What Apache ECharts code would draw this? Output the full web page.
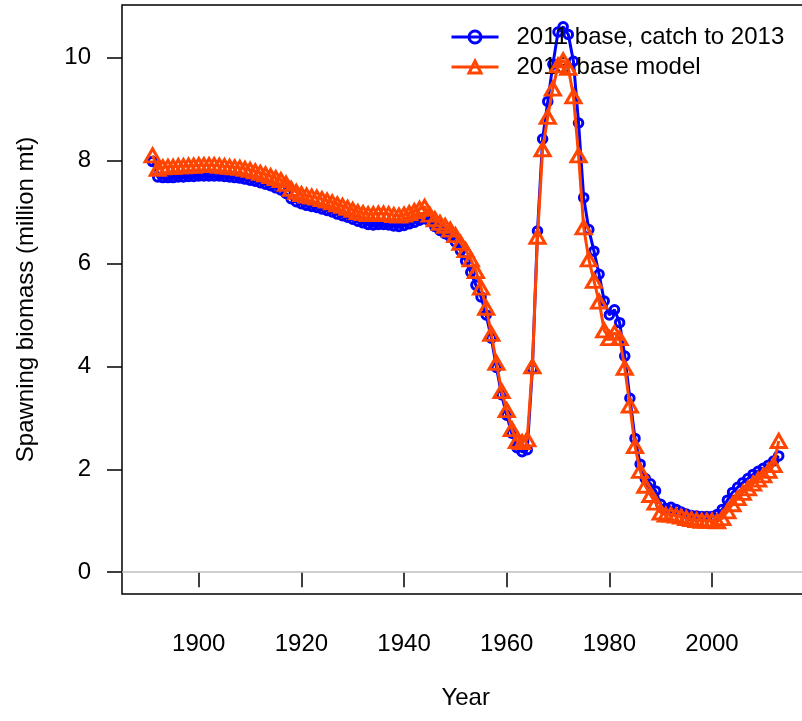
<!DOCTYPE html>
<html>
<head>
<meta charset="utf-8">
<script src="https://cdn.jsdelivr.net/npm/echarts@6/dist/echarts.min.js"></script>
<style>
  html, body { margin: 0; padding: 0; background: #fff; }
  #chart { width: 802px; height: 721px; }
</style>
</head>
<body>
<div id="chart"></div>
<script>
// Spawning biomass (million mt) by year, two model runs
const firstYear = 1891;
const lastYear = 2013;

const base2011 = [
  7.98, 7.68, 7.67, 7.67, 7.67, 7.68, 7.68, 7.69, 7.69,             // 1891-1899
  7.70, 7.70, 7.70, 7.70, 7.70, 7.69, 7.68, 7.67, 7.66, 7.64,       // 1900-1909
  7.62, 7.60, 7.57, 7.54, 7.51, 7.47, 7.43, 7.36, 7.26, 7.20,       // 1910-1919
  7.16, 7.13, 7.11, 7.09, 7.06, 7.03, 7.00, 6.96, 6.93, 6.90,       // 1920-1929
  6.86, 6.82, 6.79, 6.76, 6.75, 6.76, 6.76, 6.75, 6.73, 6.72,       // 1930-1939
  6.74, 6.77, 6.80, 6.84, 6.87, 6.82, 6.72, 6.64, 6.58, 6.52,       // 1940-1949
  6.42, 6.25, 6.05, 5.83, 5.58, 5.35, 5.00, 4.55, 3.98, 3.45,       // 1950-1959
  3.05, 2.70, 2.42, 2.34, 2.38, 3.95, 6.63, 8.42, 9.15, 9.87,       // 1960-1969
  10.50, 10.60, 10.45, 9.93, 8.73, 7.28, 6.66, 6.24, 5.79, 5.27,    // 1970-1979
  5.00, 5.10, 4.85, 4.20, 3.38, 2.60, 2.10, 1.82, 1.72, 1.58,       // 1980-1989
  1.32, 1.24, 1.26, 1.22, 1.17, 1.13, 1.10, 1.09, 1.08, 1.08,       // 1990-1999
  1.08, 1.12, 1.22, 1.40, 1.55, 1.65, 1.74, 1.82, 1.90, 1.96,       // 2000-2009
  2.02, 2.08, 2.16, 2.26                                            // 2010-2013
];

const base2013 = [
  8.10, 7.84, 7.87, 7.88, 7.88, 7.89, 7.89, 7.90, 7.90,             // 1891-1899
  7.91, 7.91, 7.91, 7.91, 7.90, 7.89, 7.88, 7.87, 7.86, 7.84,       // 1900-1909
  7.82, 7.79, 7.76, 7.73, 7.70, 7.66, 7.62, 7.55, 7.45, 7.39,       // 1910-1919
  7.35, 7.32, 7.30, 7.28, 7.25, 7.22, 7.19, 7.15, 7.12, 7.08,       // 1920-1929
  7.04, 7.00, 6.98, 6.96, 6.96, 6.97, 6.97, 6.96, 6.94, 6.93,       // 1930-1939
  6.95, 6.98, 7.02, 7.06, 7.10, 6.95, 6.86, 6.79, 6.73, 6.66,       // 1940-1949
  6.55, 6.40, 6.26, 6.08, 5.85, 5.53, 5.14, 4.63, 4.07, 3.52,       // 1950-1959
  3.15, 2.78, 2.55, 2.53, 2.58, 4.00, 6.52, 8.22, 8.85, 9.40,       // 1960-1969
  9.85, 9.95, 9.80, 9.25, 8.10, 6.70, 6.08, 5.66, 5.26, 4.70,       // 1970-1979
  4.55, 4.65, 4.55, 3.97, 3.24, 2.45, 1.97, 1.68, 1.50, 1.35,       // 1980-1989
  1.16, 1.12, 1.12, 1.10, 1.08, 1.05, 1.03, 1.01, 1.00, 1.00,       // 1990-1999
  1.00, 0.99, 1.05, 1.18, 1.32, 1.44, 1.54, 1.63, 1.72, 1.80,       // 2000-2009
  1.88, 1.97, 2.08, 2.55                                            // 2010-2013
];

const seriesNames = ['2011 base, catch to 2013', '2013 base model'];
const yearTicks = [1900, 1920, 1940, 1960, 1980, 2000];
const biomassTicks = [0, 2, 4, 6, 8, 10];

const years = [];
for (let y = firstYear; y <= lastYear; y++) years.push(y);
const pairs = (vals) => years.map((y, i) => [y, vals[i]]);

// axis limits padded 4% beyond the plotted range, R style
const xLo = 1890, xHi = 2014;
const xPad = (xHi - xLo) * 0.04;
const yLo = 0, yHi = Math.max(...base2011);
const yPad = (yHi - yLo) * 0.04;

const FONT = '"Liberation Sans", Arial, Helvetica, sans-serif';
const BLUE = '#0000FF';
const RED = '#FF4500';

const chart = echarts.init(document.getElementById('chart'), null, { renderer: 'canvas' });

chart.setOption({
  animation: false,
  backgroundColor: '#ffffff',
  textStyle: { fontFamily: FONT },
  grid: {
    left: 122, top: 5, height: 589, width: 687.3,
    outerBoundsMode: 'none',
    containLabel: false,
    show: true, borderColor: '#000000', borderWidth: 1.5,
    backgroundColor: 'transparent'
  },
  legend: {
    orient: 'vertical',
    left: 445, top: 20,
    itemWidth: 47, itemHeight: 15, itemGap: 6,
    data: seriesNames,
    lineStyle: { width: 3 },
    itemStyle: { borderWidth: 3 },
    textStyle: { fontSize: 24, color: '#000', fontFamily: FONT, padding: [0, 0, 0, 13] }
  },
  xAxis: {
    type: 'value',
    min: xLo - xPad, max: xHi + xPad,
    name: 'Year', nameLocation: 'middle', nameGap: 92,
    nameTextStyle: { fontSize: 24, color: '#000', fontFamily: FONT },
    axisLine: { show: false },
    splitLine: { show: false },
    axisTick: { show: true, inside: false, length: 15, customValues: yearTicks,
                lineStyle: { color: '#000', width: 1.5 } },
    axisLabel: { customValues: yearTicks, margin: 38, fontSize: 24, color: '#000', fontFamily: FONT,
                 formatter: (v) => String(v) }
  },
  yAxis: {
    type: 'value',
    min: yLo - yPad, max: yHi + yPad,
    name: 'Spawning biomass (million mt)', nameLocation: 'middle', nameGap: 84, nameRotate: 90,
    nameTextStyle: { fontSize: 24, color: '#000', fontFamily: FONT },
    axisLine: { show: false },
    splitLine: { show: false },
    axisTick: { show: true, inside: false, length: 15, customValues: biomassTicks,
                lineStyle: { color: '#000', width: 1.5 } },
    axisLabel: { customValues: biomassTicks, margin: 31, fontSize: 24, color: '#000', fontFamily: FONT,
                 formatter: (v) => String(v) }
  },
  series: [
    {
      name: seriesNames[0],
      type: 'line',
      data: pairs(base2011),
      symbol: 'circle', symbolSize: 8.5,
      lineStyle: { color: BLUE, width: 3 },
      itemStyle: { color: 'transparent', borderColor: BLUE, borderWidth: 3 },
      z: 3,
      markLine: {
        silent: true, symbol: 'none', label: { show: false },
        lineStyle: { color: '#BEBEBE', width: 1.5, type: 'solid' },
        data: [{ yAxis: 0 }],
        z: 1
      }
    },
    {
      name: seriesNames[1],
      type: 'line',
      data: pairs(base2013),
      symbol: 'triangle', symbolSize: [15, 13],
      lineStyle: { color: RED, width: 3 },
      itemStyle: { color: 'transparent', borderColor: RED, borderWidth: 3 },
      z: 4
    }
  ]
});
</script>
</body>
</html>
